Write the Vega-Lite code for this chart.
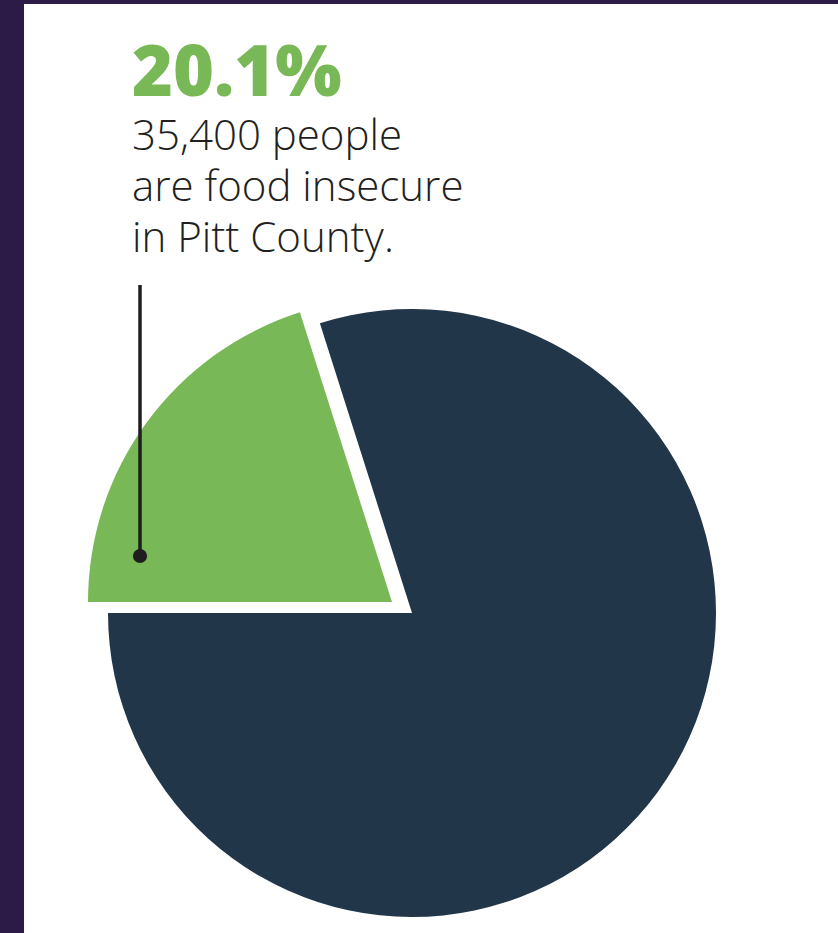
{
  "$schema": "https://vega.github.io/schema/vega-lite/v6.json",
  "width": 838,
  "height": 933,
  "autosize": {"type": "fit", "contains": "padding"},
  "padding": {"left": 24, "top": 4, "right": 0, "bottom": 0},
  "background": "#2c1a47",
  "view": {"fill": "#ffffff", "stroke": null},
  "data": {
    "values": [
      {"group": "Food insecure", "percent": 20.1, "order": 1, "headline": "20.1%", "note": "35,400 people\nare food insecure\nin Pitt County."},
      {"group": "Food secure", "percent": 79.9, "order": 2}
    ]
  },
  "transform": [
    {"stack": "percent", "groupby": [], "sort": [{"field": "order"}], "as": ["p0", "p1"]}
  ],
  "layer": [
    {
      "transform": [{"filter": "datum.order == 2"}],
      "mark": {"type": "arc", "radius": 304, "xOffset": -19, "yOffset": 144.5},
      "encoding": {
        "theta": {"field": "p0", "type": "quantitative", "scale": {"domain": [0, 100], "range": [4.712389, 10.995574]}},
        "theta2": {"field": "p1"},
        "color": {"field": "group", "type": "nominal", "scale": {"domain": ["Food insecure", "Food secure"], "range": ["#78b856", "#22364a"]}, "legend": null}
      }
    },
    {
      "transform": [{"filter": "datum.order == 1"}],
      "mark": {"type": "arc", "radius": 304, "xOffset": -39, "yOffset": 133.5},
      "encoding": {
        "theta": {"field": "p0", "type": "quantitative", "scale": {"domain": [0, 100], "range": [4.712389, 10.995574]}},
        "theta2": {"field": "p1"},
        "color": {"field": "group", "type": "nominal", "scale": {"domain": ["Food insecure", "Food secure"], "range": ["#78b856", "#22364a"]}, "legend": null}
      }
    },
    {
      "transform": [{"filter": "datum.order == 1"}],
      "mark": {"type": "rule", "strokeWidth": 3.5, "color": "#1e1e1e"},
      "encoding": {"x": {"value": 116}, "y": {"value": 281}, "y2": {"value": 552}}
    },
    {
      "transform": [{"filter": "datum.order == 1"}],
      "mark": {"type": "circle", "size": 200, "opacity": 1, "color": "#1e1e1e"},
      "encoding": {"x": {"value": 116}, "y": {"value": 552}}
    },
    {
      "transform": [{"filter": "datum.order == 1"}],
      "mark": {"type": "text", "x": 108, "y": 92, "align": "left", "baseline": "alphabetic", "font": "Open Sans", "fontSize": 70, "fontWeight": 800, "color": "#78b856"},
      "encoding": {"text": {"field": "headline"}}
    },
    {
      "transform": [{"filter": "datum.order == 1"}],
      "mark": {"type": "text", "x": 108, "y": 146, "align": "left", "baseline": "alphabetic", "font": "Open Sans", "fontSize": 42, "lineHeight": 51, "lineBreak": "\n", "fontWeight": 300, "color": "#231f20"},
      "encoding": {"text": {"field": "note"}}
    }
  ]
}
